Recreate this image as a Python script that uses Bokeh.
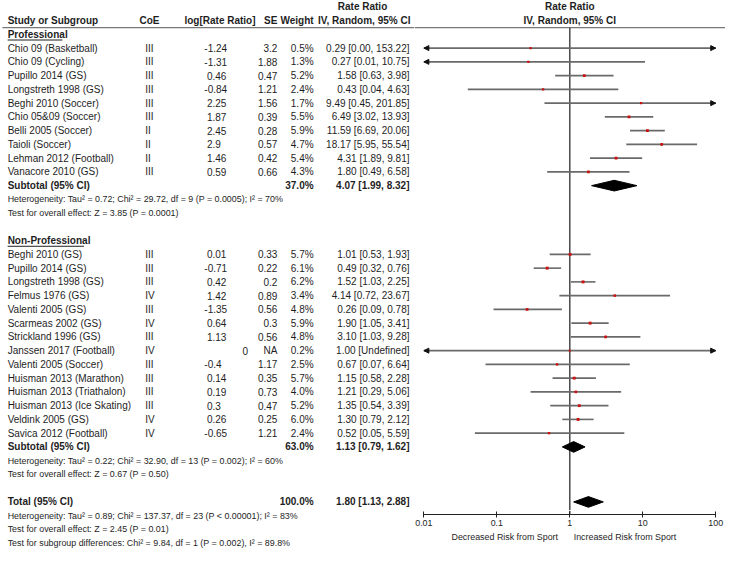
from bokeh.plotting import figure
from bokeh.models import (Range1d, FixedTicker, CustomJSTickFormatter,
                          Arrow, NormalHead, ColumnDataSource)
from bokeh.layouts import row, column
from bokeh.core.properties import value
from bokeh.embed import file_html
from bokeh.resources import INLINE

# ---------------- data ----------------
group_names = ["Professional", "Non-Professional"]

pro_study = ["Chio 09 (Basketball)", "Chio 09 (Cycling)", "Pupillo 2014 (GS)",
             "Longstreth 1998 (GS)", "Beghi 2010 (Soccer)", "Chio 05&09 (Soccer)",
             "Belli 2005 (Soccer)", "Taioli (Soccer)", "Lehman 2012 (Football)",
             "Vanacore 2010 (GS)"]
pro_coe = ["III", "III", "III", "III", "III", "III", "II", "II", "II", "III"]
pro_log = ["-1.24", "-1.31", "0.46", "-0.84", "2.25", "1.87", "2.45", "2.9", "1.46", "0.59"]
pro_se = ["3.2", "1.88", "0.47", "1.21", "1.56", "0.39", "0.28", "0.57", "0.42", "0.66"]
pro_weight = [0.5, 1.3, 5.2, 2.4, 1.7, 5.5, 5.9, 4.7, 5.4, 4.3]
pro_rr = [0.29, 0.27, 1.58, 0.43, 9.49, 6.49, 11.59, 18.17, 4.31, 1.80]
pro_lo = [0.00, 0.01, 0.63, 0.04, 0.45, 3.02, 6.69, 5.95, 1.89, 0.49]
pro_hi = [153.22, 10.75, 3.98, 4.63, 201.85, 13.93, 20.06, 55.54, 9.81, 6.58]

non_study = ["Beghi 2010 (GS)", "Pupillo 2014 (GS)", "Longstreth 1998 (GS)",
             "Felmus 1976 (GS)", "Valenti 2005 (GS)", "Scarmeas 2002 (GS)",
             "Strickland 1996 (GS)", "Janssen 2017 (Football)", "Valenti 2005 (Soccer)",
             "Huisman 2013 (Marathon)", "Huisman 2013 (Triathalon)",
             "Huisman 2013 (Ice Skating)", "Veldink 2005 (GS)", "Savica 2012 (Football)"]
non_coe = ["III", "III", "III", "IV", "III", "IV", "III", "IV", "III", "III", "III",
           "III", "IV", "IV"]
non_log = ["0.01", "-0.71", "0.42", "1.42", "-1.35", "0.64", "1.13", "0", "-0.4",
           "0.14", "0.19", "0.3", "0.26", "-0.65"]
non_se = ["0.33", "0.22", "0.2", "0.89", "0.56", "0.3", "0.56", "NA", "1.17", "0.35",
          "0.73", "0.47", "0.25", "1.21"]
non_weight = [5.7, 6.1, 6.2, 3.4, 4.8, 5.9, 4.8, 0.2, 2.5, 5.7, 4.0, 5.2, 6.0, 2.4]
non_rr = [1.01, 0.49, 1.52, 4.14, 0.26, 1.90, 3.10, 1.00, 0.67, 1.15, 1.21, 1.35, 1.30, 0.52]
non_lo = [0.53, 0.32, 1.03, 0.72, 0.09, 1.05, 1.03, None, 0.07, 0.58, 0.29, 0.54, 0.79, 0.05]
non_hi = [1.93, 0.76, 2.25, 23.67, 0.78, 3.41, 9.28, None, 6.64, 2.28, 5.06, 3.39, 2.12, 5.59]

sub_weight = ["37.0%", "63.0%"]
sub_rr = [4.07, 1.13]
sub_lo = [1.99, 0.79]
sub_hi = [8.32, 1.62]
sub_het = ["Heterogeneity: Tau\u00b2 = 0.72; Chi\u00b2 = 29.72, df = 9 (P = 0.0005); I\u00b2 = 70%",
           "Heterogeneity: Tau\u00b2 = 0.22; Chi\u00b2 = 32.90, df = 13 (P = 0.002); I\u00b2 = 60%"]
sub_test = ["Test for overall effect: Z = 3.85 (P = 0.0001)",
            "Test for overall effect: Z = 0.67 (P = 0.50)"]

total_weight = "100.0%"
total_rr, total_lo, total_hi = 1.80, 1.13, 2.88
total_notes = ["Heterogeneity: Tau\u00b2 = 0.89; Chi\u00b2 = 137.37, df = 23 (P < 0.00001); I\u00b2 = 83%",
               "Test for overall effect: Z = 2.45 (P = 0.01)",
               "Test for subgroup differences: Chi\u00b2 = 9.84, df = 1 (P = 0.002), I\u00b2 = 89.8%"]

axis_ticks = [0.01, 0.1, 1, 10, 100]
axis_left_label = "Decreased Risk from Sport"
axis_right_label = "Increased Risk from Sport"

# ---------------- layout constants (reference-pixel units) ----------------
FONT = "Liberation Sans"
TXT = "#1e1e1e"
FS = "10px"
FS_SMALL = "8.9px"

W, H = 725, 552
REF_W, REF_H = 741.0, 568.0
KX = W / REF_W
KY = H / REF_H
REF_XSPLIT = 423.0
WL = int(round(REF_XSPLIT * KX))
WR = W - WL

ROW0, STEP = 34.85, 14.15
HEAD1_Y, HEAD2_Y, HEAD_LINE_Y = 6.5, 20.5, 28.0
AXIS_Y = 529.3
X_ONE, DECADE = 581.85, 74.575
X_NAME, X_COE, X_LOG, X_LOG_R, X_SE, X_W, X_RR = 7.3, 148.0, 211.0, 253.0, 283.0, 320.0, 418.0
MINUS_W = 2.7
UNDERLINE_W = [56.0, 78.0]
DIAMOND_H = 5.5
AXIS_FRAME, AXIS_PANEL = 4, 18
TOP_H = int(round(AXIS_Y * KY)) - AXIS_FRAME
LAB_H = H - TOP_H - AXIS_FRAME - AXIS_PANEL


def ry(i):
    return ROW0 + i * STEP


def fmt_ci(rr, lo, hi):
    if lo is None:
        return f"{rr:.2f} [Undefined]"
    return f"{rr:.2f} [{lo:.2f}, {hi:.2f}]"


def bare(fig):
    fig.xgrid.grid_line_color = None
    fig.ygrid.grid_line_color = None
    return fig


# ---------------- figures ----------------
split = WL / KX
L = bare(figure(width=WL, height=H, x_range=Range1d(0, split),
                y_range=Range1d(REF_H, 0), output_backend="svg", toolbar_location=None,
                x_axis_location=None, y_axis_location=None, min_border=0,
                outline_line_color=None))

x_start = 10 ** ((split - X_ONE) / DECADE)
x_end = 10 ** ((split + WR / KX - X_ONE) / DECADE)
xr = Range1d(x_start, x_end)

R = bare(figure(width=WR, height=TOP_H, x_axis_type="log", x_range=xr,
                y_range=Range1d(TOP_H / KY, 0), output_backend="svg", toolbar_location=None,
                x_axis_location=None, y_axis_location=None, min_border=0,
                outline_line_color=None))
RA = bare(figure(width=WR, height=AXIS_FRAME + AXIS_PANEL, x_axis_type="log", x_range=xr,
                 y_range=Range1d((TOP_H + AXIS_FRAME) / KY, TOP_H / KY), output_backend="svg",
                 toolbar_location=None, y_axis_location=None, min_border_left=0,
                 min_border_right=0, min_border_top=0, min_border_bottom=AXIS_PANEL,
                 outline_line_color=None))
RL = bare(figure(width=WR, height=LAB_H, x_axis_type="log", x_range=xr,
                 y_range=Range1d(REF_H, (H - LAB_H) / KY),
                 output_backend="svg", toolbar_location=None, x_axis_location=None,
                 y_axis_location=None, min_border=0, outline_line_color=None))


def txt(fig, xs, ys, texts, align="left", size=FS, bold=False, x_offset=0):
    fig.text(x=xs, y=ys, text=texts, text_align=align, text_baseline="middle",
             text_font=value(FONT), text_font_size=size, x_offset=x_offset,
             text_font_style="bold" if bold else "normal", text_color=TXT)


# header
txt(L, [X_NAME, 142.0, 188.0], [HEAD2_Y] * 3, ["Study or Subgroup", "CoE", "log[Rate Ratio]"], bold=True)
txt(L, [X_SE, X_W, 419.0], [HEAD2_Y] * 3, ["SE", "Weight", "IV, Random, 95% CI"], align="right", bold=True)
txt(L, [370.0], [HEAD1_Y], ["Rate Ratio"], align="center", bold=True)
txt(R, [1, 1], [HEAD1_Y, HEAD2_Y], ["Rate Ratio", "IV, Random, 95% CI"], align="center", bold=True)
L.segment(x0=[2.0], y0=[HEAD_LINE_Y], x1=[split], y1=[HEAD_LINE_Y], line_color="#777777", line_width=1.2)
R.segment(x0=[x_start], y0=[HEAD_LINE_Y], x1=[x_end], y1=[HEAD_LINE_Y], line_color="#777777", line_width=1.2)

groups = [
    (pro_study, pro_coe, pro_log, pro_se, pro_weight, pro_rr, pro_lo, pro_hi),
    (non_study, non_coe, non_log, non_se, non_weight, non_rr, non_lo, non_hi),
]

study_y, st_rr, st_lo, st_hi, st_w = [], [], [], [], []
r = 0
diamonds = []
for g, (study, coe, logs, se, wts, rr, lo, hi) in enumerate(groups):
    y = ry(r)
    txt(L, [X_NAME], [y], [group_names[g]], bold=True)
    L.segment(x0=[X_NAME], y0=[y + 5.8], x1=[X_NAME + UNDERLINE_W[g]], y1=[y + 5.8],
              line_color=TXT, line_width=1)
    r += 1
    ys = [ry(r + k) for k in range(len(study))]
    r += len(study)
    est = [e != "NA" for e in se]
    txt(L, [X_NAME] * len(ys), ys, study)
    txt(L, [X_COE] * len(ys), ys, coe)
    txt(L, [X_LOG - (MINUS_W if s.startswith("-") else 0) for s, ok in zip(logs, est) if ok],
        [y_ for y_, ok in zip(ys, est) if ok], [s for s, ok in zip(logs, est) if ok])
    txt(L, [X_LOG_R for ok in est if not ok], [y_ for y_, ok in zip(ys, est) if not ok],
        [s for s, ok in zip(logs, est) if not ok], align="right")
    txt(L, [X_SE] * len(ys), ys, se, align="right")
    txt(L, [X_W] * len(ys), ys, [f"{w:.1f}%" for w in wts], align="right")
    txt(L, [X_RR] * len(ys), ys, [fmt_ci(a, b, c) for a, b, c in zip(rr, lo, hi)], align="right")
    study_y += ys; st_rr += rr; st_lo += lo; st_hi += hi; st_w += wts
    # subtotal
    y = ry(r)
    txt(L, [X_NAME], [y], ["Subtotal (95% CI)"], bold=True)
    txt(L, [X_W, X_RR], [y, y], [sub_weight[g], fmt_ci(sub_rr[g], sub_lo[g], sub_hi[g])], align="right", bold=True)
    diamonds.append((y, sub_rr[g], sub_lo[g], sub_hi[g]))
    r += 1
    txt(L, [X_NAME, X_NAME], [ry(r), ry(r + 1)], [sub_het[g], sub_test[g]], size=FS_SMALL)
    r += 3

# total
y = ry(r)
txt(L, [X_NAME], [y], ["Total (95% CI)"], bold=True)
txt(L, [X_W, X_RR], [y, y], [total_weight, fmt_ci(total_rr, total_lo, total_hi)], align="right", bold=True)
diamonds.append((y, total_rr, total_lo, total_hi))
txt(L, [X_NAME] * 3, [ry(r + 1 + k) for k in range(3)], total_notes, size=FS_SMALL)

# ---------------- forest ----------------
lo_edge, hi_edge = axis_ticks[0], axis_ticks[-1]
R.segment(x0=[1], y0=[HEAD_LINE_Y], x1=[1], y1=[TOP_H / KY], line_color="#4a4a4a", line_width=1.5)
RA.segment(x0=[1], y0=[TOP_H / KY], x1=[1], y1=[(TOP_H + AXIS_FRAME) / KY], line_color="#4a4a4a", line_width=1.5)

x0s, x1s = [], []
arr_xs, arr_xe, arr_y = [], [], []
for y, rr, lo, hi in zip(study_y, st_rr, st_lo, st_hi):
    a = lo_edge if (lo is None or lo <= lo_edge) else lo
    b = hi_edge if (hi is None or hi >= hi_edge) else hi
    x0s.append(a); x1s.append(b)
    if lo is None or lo <= lo_edge:
        arr_xs.append(rr); arr_xe.append(lo_edge); arr_y.append(y)
    if hi is None or hi >= hi_edge:
        arr_xs.append(rr); arr_xe.append(hi_edge); arr_y.append(y)

R.segment(x0=x0s, y0=study_y, x1=x1s, y1=study_y, line_color="#6a6a6a", line_width=1.6)
asrc = ColumnDataSource(dict(xs=arr_xs, xe=arr_xe, y=arr_y))
R.add_layout(Arrow(end=NormalHead(size=5, fill_color="#111111", line_color="#111111", line_width=1),
                   x_start="xs", y_start="y", x_end="xe", y_end="y", source=asrc,
                   line_color=None))
R.scatter(x=st_rr, y=study_y, marker="square", size=[2.0 + 0.15 * w for w in st_w],
          fill_color="#cc1010", line_color=None)

R.patches(xs=[[lo, rr, hi, rr] for (_, rr, lo, hi) in diamonds],
          ys=[[y, y - DIAMOND_H, y, y + DIAMOND_H] for (y, _, _, _) in diamonds],
          fill_color="black", line_color="black", line_width=1)

# axis
ax = RA.xaxis[0]
ax.ticker = FixedTicker(ticks=axis_ticks, minor_ticks=[])
ax.formatter = CustomJSTickFormatter(code="return tick.toString();")
ax.bounds = (lo_edge, hi_edge)
ax.major_tick_in = 3
ax.major_tick_out = 3
ax.major_tick_line_color = "#222222"
ax.axis_line_color = "#222222"
ax.axis_line_width = 1.2
ax.major_label_standoff = 2
ax.major_label_text_font = FONT
ax.major_label_text_font_size = FS_SMALL
ax.major_label_text_color = TXT

txt(RL, [1], [551.7], [axis_left_label], align="right", size=FS_SMALL, x_offset=-12 * KX)
txt(RL, [1], [551.7], [axis_right_label], align="left", size=FS_SMALL, x_offset=4 * KX)

p = row(L, column(R, RA, RL))
open("out.html", "w").write(file_html(p, INLINE))
